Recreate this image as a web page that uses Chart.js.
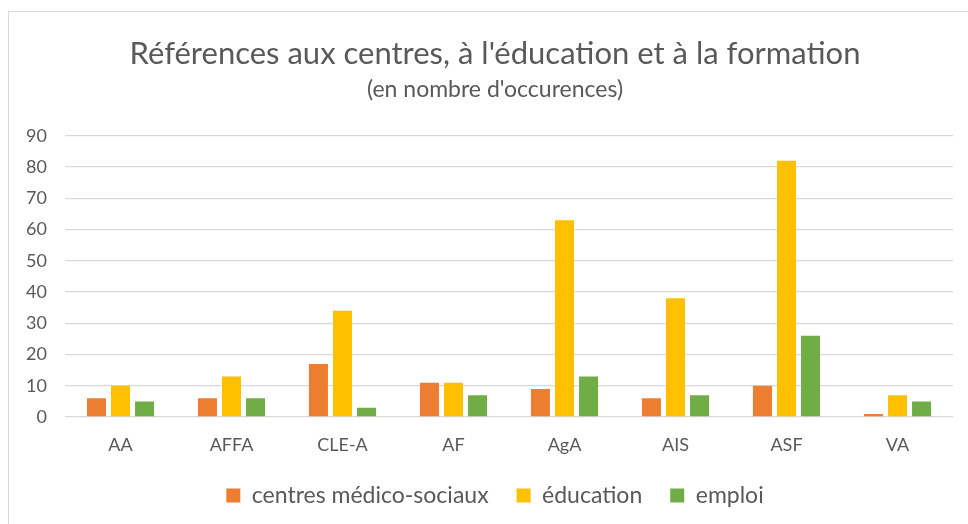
<!DOCTYPE html>
<html>
<head>
<meta charset="utf-8">
<script src="https://cdn.jsdelivr.net/npm/chart.js@4"></script>
<style>
  html, body { margin: 0; padding: 0; background: #ffffff; overflow: hidden; }
  #frame {
    position: absolute; left: 8px; top: 11px; width: 1200px; height: 800px;
    border-left: 1px solid #d9d9d9; border-top: 1px solid #d9d9d9;
  }
  #wrap { position: absolute; left: 0; top: 0; width: 990px; height: 524px; }
</style>
</head>
<body>
<div id="frame"></div>
<div id="wrap"><canvas id="chart"></canvas></div>
<script>
// DATA
const categories = ["AA", "AFFA", "CLE-A", "AF", "AgA", "AIS", "ASF", "VA"];
const centresMedicoSociaux = [6, 6, 17, 11, 9, 6, 10, 1];
const education = [10, 13, 34, 11, 63, 38, 82, 7];
const emploi = [5, 6, 3, 7, 13, 7, 26, 5];
const yTicks = [0, 10, 20, 30, 40, 50, 60, 70, 80, 90];

const textColor = "#595959";
const fontFamily = "Lato, 'Open Sans', sans-serif";

const ctx = document.getElementById("chart").getContext("2d");
const chart = new Chart(ctx, {
  type: "bar",
  data: {
    labels: categories,
    datasets: [
      { label: "centres médico-sociaux", data: centresMedicoSociaux, backgroundColor: "#ED7D31" },
      { label: "éducation", data: education, backgroundColor: "#FFC000" },
      { label: "emploi", data: emploi, backgroundColor: "#70AD47" },
    ],
  },
  options: {
    responsive: true,
    maintainAspectRatio: false,
    animation: false,
    datasets: {
      bar: { categoryPercentage: 0.65, barPercentage: 0.79 },
    },
    layout: { padding: { left: 0, right: 0, top: 0, bottom: 7 } },
    plugins: {
      title: {
        display: true,
        text: "Références aux centres, à l'éducation et à la formation",
        color: textColor,
        font: { family: fontFamily, size: 31, weight: "normal" },
        padding: { top: 35, bottom: 0 },
      },
      subtitle: {
        display: true,
        text: "(en nombre d'occurences)",
        color: textColor,
        font: { family: fontFamily, size: 23, weight: "normal" },
        padding: { top: 4, bottom: 32 },
      },
      legend: {
        position: "bottom",
        labels: {
          color: textColor,
          font: { family: fontFamily, size: 23 },
          boxWidth: 14,
          boxHeight: 14,
          padding: 28,
        },
      },
      tooltip: { enabled: false },
    },
    scales: {
      x: {
        afterFit: (scale) => { scale.height = 39; },
        grid: { display: false, drawTicks: false },
        border: { display: false },
        ticks: { color: textColor, font: { family: fontFamily, size: 18 }, padding: 17 },
      },
      y: {
        min: 0,
        max: 90,
        afterFit: (scale) => { scale.width = 65; },
        afterBuildTicks: (scale) => { scale.ticks = yTicks.map((v) => ({ value: v })); },
        grid: { color: "#d9d9d9", lineWidth: 1.3, drawTicks: false },
        border: { display: false },
        ticks: { color: textColor, font: { family: fontFamily, size: 18 }, padding: 18 },
      },
      // empty right-hand axis, only keeps space on the right side
      spacer: {
        position: "right",
        min: 0,
        max: 90,
        afterFit: (scale) => { scale.width = 37; },
        grid: { display: false, drawTicks: false },
        border: { display: false },
        ticks: { display: false },
      },
    },
  },
});
</script>
</body>
</html>
